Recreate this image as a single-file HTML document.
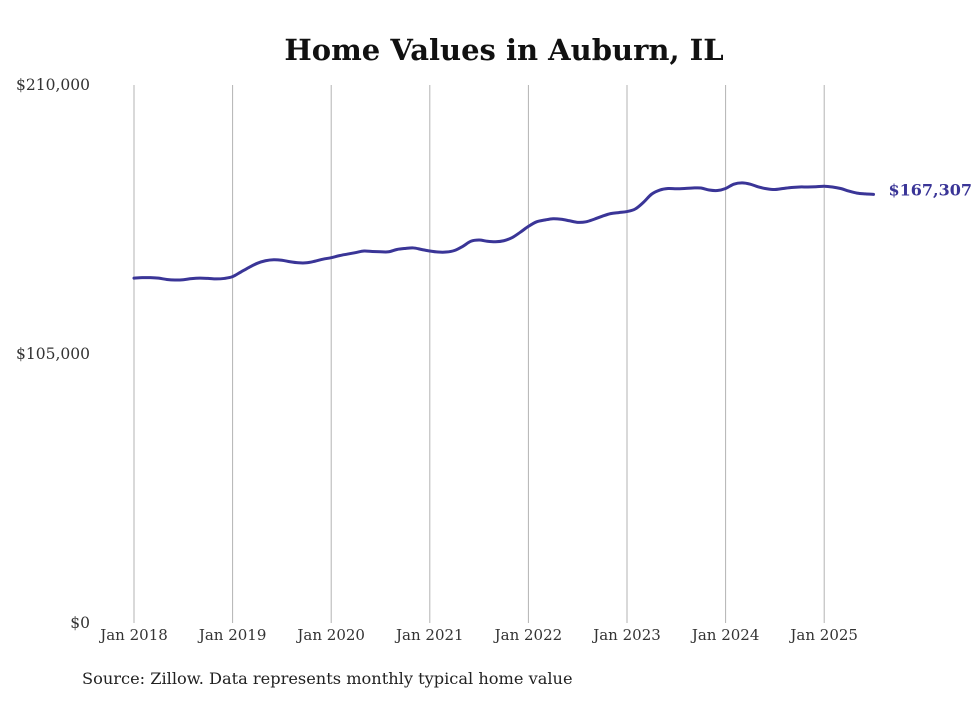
<!DOCTYPE html>
<html><head><meta charset="utf-8"><style>
body{margin:0;background:#fff;}
svg text{font-family:"DejaVu Serif","Liberation Serif",serif;}
</style></head><body>
<svg width="980" height="699" id="chart">
<text x="504" y="60" text-anchor="middle" font-size="29" font-weight="bold" fill="#111">Home Values in Auburn, IL</text>
<text x="82" y="684" font-size="16.2" fill="#222">Source: Zillow. Data represents monthly typical home value</text>
<g id="grid"></g><g id="yaxis"></g><g id="xaxis"></g><g id="series"></g>
</svg>
<script>
const yTicks=[0,105000,210000];
const yTickLabels=["$0","$105,000","$210,000"];
const xYears=[2018,2019,2020,2021,2022,2023,2024,2025];
const xTickLabels=["Jan 2018","Jan 2019","Jan 2020","Jan 2021","Jan 2022","Jan 2023","Jan 2024","Jan 2025"];
const values=[134.6,134.8,134.8,134.6,134.1,133.9,134.0,134.4,134.6,134.5,134.3,134.5,
135.2,137.0,138.8,140.4,141.4,141.8,141.6,141.0,140.6,140.6,141.2,142.0,
142.6,143.4,144.0,144.6,145.2,145.0,144.9,144.9,145.8,146.2,146.4,145.8,
145.2,144.8,144.8,145.4,147.0,149.0,149.5,149.0,148.8,149.2,150.4,152.5,
154.8,156.6,157.3,157.8,157.6,157.0,156.4,156.6,157.6,158.8,159.8,160.2,
160.6,161.6,164.2,167.4,169.0,169.6,169.5,169.6,169.8,169.8,169.0,168.8,
169.6,171.3,171.8,171.3,170.2,169.5,169.2,169.6,170.0,170.2,170.2,170.3,
170.5,170.2,169.6,168.6,167.8,167.5,167.307];
const startYear=2018;
const lastLabel="$167,307";
const NS="http://www.w3.org/2000/svg";
function xs(t){return 134+(t-2018)*98.6;}
function ys(v){return 623-v/210000*538;}
function mk(tag,attrs,parent,txt){const e=document.createElementNS(NS,tag);for(const k in attrs)e.setAttribute(k,attrs[k]);if(txt!==undefined)e.textContent=txt;document.getElementById(parent).appendChild(e);return e;}
xYears.forEach((yr,i)=>{
  const g=mk('line',{x1:xs(yr),x2:xs(yr),y1:85,y2:623,stroke:'#b3b3b3','stroke-width':1},'grid');
  
  
  const t=mk('text',{x:xs(yr),y:640,'text-anchor':'middle','font-size':15,fill:'#333'},'xaxis',xTickLabels[i]);
  
  
});
yTicks.forEach((v,i)=>{
  const t=mk('text',{x:90,y:ys(v)+5,'text-anchor':'end','font-size':15.5,fill:'#333'},'yaxis',yTickLabels[i]);
  
  
});
const pts=values.map((v,i)=>[xs(startYear+i/12),ys(v*1000)]);
let d='M'+pts[0][0]+','+pts[0][1];
for(let i=1;i<pts.length;i++){
  const p0=pts[Math.max(0,i-2)],p1=pts[i-1],p2=pts[i],p3=pts[Math.min(pts.length-1,i+1)];
  const c1=[p1[0]+(p2[0]-p0[0])/6,p1[1]+(p2[1]-p0[1])/6],c2=[p2[0]-(p3[0]-p1[0])/6,p2[1]-(p3[1]-p1[1])/6];
  d+=' C'+c1+' '+c2+' '+p2;
}
const line=mk('path',{d:d,fill:'none',stroke:'#3a3597','stroke-width':3,'stroke-linejoin':'round','stroke-linecap':'round'},'series');


const last=pts[pts.length-1];
const lbl=mk('text',{x:last[0]+15,y:last[1]+1,'font-size':16,'font-weight':'bold',fill:'#3a3597'},'series',lastLabel);


</script>
</body></html>
